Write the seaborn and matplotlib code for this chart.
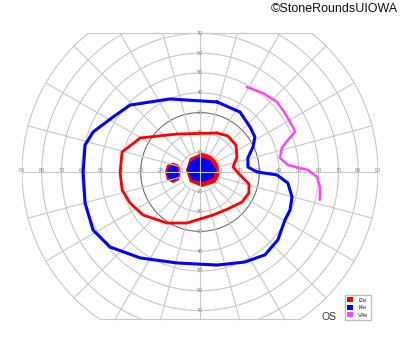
import numpy as np
import pandas as pd
import matplotlib
matplotlib.use("Agg")
import matplotlib.pyplot as plt
from matplotlib.patches import Patch
import seaborn as sns

# ---- data: isopters as (meridian angle in degrees, eccentricity in degrees) ----
i4e_ang = [76.3, 56.3, 41.9, 32.5, 25.2, 16.3, 5.9, 0, -2.2, -7.2, -15.2, -22.9, -29.4, -41.0,
           -51.9, -63.5, -79.6, -104.2, -124.9, -140.2, -151.5, -164.9, 180, 166.8, 159.5,
           147.7, 136.3, 112.4]
i4e_ecc = [36.4, 36.4, 34.0, 32.9, 29.6, 25.2, 24.4, 28.8, 38.9, 44.8, 48.2, 49.4, 49.3, 52.2,
           53.2, 50.8, 47.8, 47.4, 52.9, 59.2, 61.5, 60.2, 59.1, 59.7, 57.7, 52.0, 48.9, 39.9]

i2e_ang = [66.4, 52.2, 36.8, 22.1, 8.6, -4.3, -13.8, -23.2, -35.6, -52.9, -73.1, -104.3,
           -122.9, -143.0, -156.1, -167.0, -179.3, 165.6, 155.1, 150.4, 121.1]
i2e_ecc = [21.5, 23.0, 22.7, 20.2, 16.9, 20.3, 25.5, 26.9, 26.1, 23.4, 22.7, 26.6,
           30.7, 36.1, 38.7, 40.4, 40.4, 40.7, 36.1, 34.8, 22.4]

v4e_ang = [61.1, 51.4, 42.3, 34.8, 25.8, 22.8, 20.0, 16.3, 10.0, 4.5, 1.1, -2.4, -7.1, -13.1]
v4e_ecc = [49.0, 51.0, 52.6, 52.2, 52.2, 52.1, 47.3, 43.1, 41.0, 44.6, 54.5, 59.2, 61.1, 62.2]

# central islands (filled)
c_i2e_ang = [84, 59, 35, -3, -36, -82, -135, 172, 126]
c_i2e_ecc = [9.7, 10.0, 10.5, 10.6, 9.4, 7.7, 7.2, 7.2, 8.7]
c_i4e_ang = [97, 50, 7, -24, -74, -135, 171, 135]
c_i4e_ecc = [7.7, 7.9, 8.2, 7.2, 5.3, 5.7, 6.6, 7.1]
s_i2e_ang = [160.6, 161.7, 180, -159.3, -157.6, -166.5, 180, 168.2]
s_i2e_ecc = [14.4, 11.2, 9.6, 11.3, 14.7, 17.2, 17.7, 17.1]
s_i4e_ang = [165.6, 168.6, -177.3, -163.9, -161.7, -168.3, -178.3, 171.8]
s_i4e_ecc = [14.1, 11.6, 10.6, 11.8, 14.4, 16.2, 16.7, 16.1]

legend_labels = ["I2e", "I4e", "V4e"]
colors = {"I2e": "#ff0000", "I4e": "#0000ff", "V4e": "#ff44ff"}
ring_values = [10, 20, 30, 40, 50, 60, 70, 80, 90]
vert_labels = [10, 20, 30, 40, 50, 60, 70]
TOP, BOTTOM = 70, -74.5


def to_xy(ang, ecc, close=False):
    a = np.deg2rad(np.asarray(ang, float))
    r = np.asarray(ecc, float)
    x, y = r * np.cos(a), r * np.sin(a)
    if close:
        x, y = np.append(x, x[0]), np.append(y, y[0])
    return x, y


sns.set_style("white")
plt.rcParams['font.family'] = ['Liberation Sans', 'DejaVu Sans']

fig = plt.figure(figsize=(4, 3.52), dpi=100)
ax = fig.add_axes([0.055, 0.0614, 0.89, 0.9])
ax.set_xlim(-90, 90)
ax.set_ylim(-80, 80)
ax.axis("off")

# ---- grid ----
grid_c = "#c8c8c8"
th = np.linspace(0, 2 * np.pi, 1441)
for r in ring_values:
    x, y = r * np.cos(th), r * np.sin(th)
    m = (y > TOP) | (y < BOTTOM)
    x[m] = np.nan
    y[m] = np.nan
    col = "#707070" if r == 30 else grid_c
    ax.plot(x, y, color=col, lw=0.8, zorder=3)
xt = np.sqrt(90 ** 2 - TOP ** 2)
xb = np.sqrt(90 ** 2 - BOTTOM ** 2)
ax.plot([-xt, xt], [TOP, TOP], color=grid_c, lw=0.8, zorder=3)
ax.plot([-xb, xb], [BOTTOM, BOTTOM], color=grid_c, lw=0.8, zorder=3)
for deg in range(0, 360, 15):
    a = np.deg2rad(deg)
    s = np.sin(a)
    rmax = 90
    if s > 1e-9:
        rmax = min(rmax, TOP / s)
    elif s < -1e-9:
        rmax = min(rmax, -BOTTOM / -s)
    r0 = 0 if deg % 90 == 0 else 10
    ax.plot([r0 * np.cos(a), rmax * np.cos(a)], [r0 * s, rmax * s],
            color=grid_c, lw=0.8, zorder=3)

lab_kw = dict(fontsize=4.0, color="#8a8a8a", ha="center", va="center", zorder=4)
for r in ring_values:
    ax.text(-r, 1.0, str(r), **lab_kw)
    ax.text(r, 1.0, str(r), **lab_kw)
for r in vert_labels:
    ax.text(0, r, str(r), **lab_kw)
    ax.text(0, -r, str(r), **lab_kw)

# ---- filled central islands ----
for ang, ecc, key in [(c_i2e_ang, c_i2e_ecc, "I2e"), (s_i2e_ang, s_i2e_ecc, "I2e"),
                      (c_i4e_ang, c_i4e_ecc, "I4e"), (s_i4e_ang, s_i4e_ecc, "I4e")]:
    x, y = to_xy(ang, ecc, close=True)
    ax.fill(x, y, color=colors[key], zorder=2, lw=0)

# ---- isopter lines ----
for ang, ecc, key, close, lw in [(i2e_ang, i2e_ecc, "I2e", True, 2.0),
                                 (i4e_ang, i4e_ecc, "I4e", True, 2.2),
                                 (v4e_ang, v4e_ecc, "V4e", False, 1.8)]:
    x, y = to_xy(ang, ecc, close=close)
    df = pd.DataFrame({"x": x, "y": y})
    sns.lineplot(data=df, x="x", y="y", sort=False, estimator=None, ax=ax,
                 color=colors[key], lw=lw, zorder=5)
    ln = ax.get_lines()[-1]
    ln.set_solid_joinstyle("round")
    ln.set_solid_capstyle("round")
ax.set_xlabel("")
ax.set_ylabel("")

# ---- legend / texts ----
handles = [Patch(facecolor=colors[k], edgecolor="none", label=k) for k in legend_labels]
fig.legend(handles=handles, loc="lower right", bbox_to_anchor=(0.935, 0.083),
           fontsize=4.2, frameon=True, edgecolor="#b0b0b0", fancybox=False,
           handlelength=1.0, handleheight=1.0, handletextpad=0.9, labelspacing=0.3,
           borderpad=0.4)
fig.text(0.822, 0.1, "OS", fontsize=7.5, color="#333333", ha="center", va="center")
fig.text(0.994, 0.975, "©StoneRoundsUIOWA", fontsize=9, color="#111111",
         ha="right", va="center")

fig.savefig("out.png", dpi=100)
